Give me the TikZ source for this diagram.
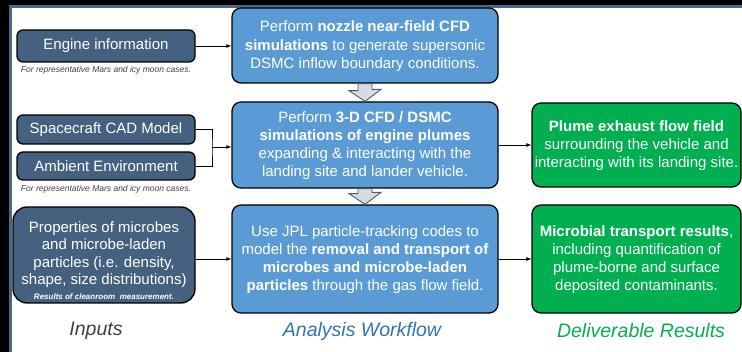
\documentclass[tikz,border=0pt]{standalone}
\usepackage{fontspec}
\setmainfont{Liberation Sans}
\usetikzlibrary{arrows.meta}
\definecolor{slate}{RGB}{68,97,128}
\definecolor{midblue}{RGB}{91,155,213}
\definecolor{grn}{RGB}{0,176,80}
\definecolor{frameblue}{RGB}{74,104,140}
\definecolor{awblue}{RGB}{46,117,182}
\definecolor{labgray}{RGB}{64,64,64}
\definecolor{arrfill}{RGB}{214,220,229}
\definecolor{arrline}{RGB}{89,89,89}
\begin{document}
\begin{tikzpicture}[x=1pt,y=-1pt,
  box/.style={draw=black, line width=1.3pt, rounded corners=9pt, text=white, align=center, inner sep=0pt,
    font=\fontsize{15}{18.2}\selectfont},
  inbox/.style={box, fill=slate, rounded corners=6pt},
  wfbox/.style={box, fill=midblue, text depth=1.5pt},
  resbox/.style={box, fill=grn, text depth=1.5pt},
  caption/.style={text=labgray, font=\fontsize{8.5}{10}\selectfont\itshape, inner sep=0pt},
  colhead/.style={font=\fontsize{19.5}{22}\selectfont\itshape, inner sep=0pt},
  conn/.style={line width=0.8pt, -{Latex[length=5pt,width=4pt]}},
  barrow/.style={fill=arrfill, draw=arrline, line width=0.9pt, line join=miter}
]
\useasboundingbox (0,0) rectangle (742,352);
% frame
\fill[black] (0,0) rectangle (742,352);
\fill[white] (10,6) rectangle (742,352);
\draw[frameblue, line width=2.2pt] (10.5,352) -- (10.5,6.5) -- (742,6.5);

% inputs
\node[inbox, minimum width=178pt, minimum height=32pt] (eng) at (106,46) {Engine information};
\node[caption] (cap1) at (106,70) {For representative Mars and icy moon cases.};
\node[inbox, minimum width=178pt, minimum height=29pt] (sc) at (106,129.5) {Spacecraft CAD Model};
\node[inbox, minimum width=178pt, minimum height=28pt] (amb) at (106,166) {Ambient Environment};
\node[caption] (cap2) at (106,189) {For representative Mars and icy moon cases.};
\node[inbox, rounded corners=14pt, minimum width=182pt, minimum height=96pt] (prop) at (104,255) {};
\node[text=white, align=center, inner sep=0pt, font=\fontsize{15}{17.4}\selectfont] (proptxt) at (104,254.5)
  {Properties of microbes\\ and microbe-laden\\ particles (i.e. density,\\ shape, size distributions)};
\node[text=white, inner sep=0pt, font=\fontsize{8}{9}\selectfont\bfseries\itshape] (propcap) at (104,297)
  {Results of cleanroom\ \ measurement.};

% workflow
\node[wfbox, minimum width=266pt, minimum height=75pt] (box1) at (365,45.5)
  {Perform \textbf{nozzle near-field CFD}\\ \textbf{simulations} to generate supersonic\\ DSMC inflow boundary conditions.};
\node[wfbox, minimum width=266pt, minimum height=86pt] (box2) at (365,145)
  {Perform \textbf{3-D CFD / DSMC}\\ \textbf{simulations of engine plumes}\\ expanding \& interacting with the\\ landing site and lander vehicle.};
\node[wfbox, minimum width=266pt, minimum height=108pt] (box3) at (365,259)
  {Use JPL particle-tracking codes to\\ model the \textbf{removal and transport of}\\ \textbf{microbes and microbe-laden}\\ \textbf{particles} through the gas flow field.};

% results
\node[resbox, minimum width=209pt, minimum height=84pt] (g1) at (636.5,145)
  {\textbf{Plume exhaust flow field}\\ surrounding the vehicle and\\ interacting with its landing site.};
\node[resbox, minimum width=209pt, minimum height=108pt] (g2) at (636.5,259)
  {\textbf{Microbial transport results},\\ including quantification of\\ plume-borne and surface\\ deposited contaminants.};

% column headings
\node[colhead, text=labgray] (hin) at (96,331) {Inputs};
\node[colhead, text=awblue] (hwf) at (362,331) {Analysis Workflow};
\node[colhead, text=grn] (hres) at (641,331) {Deliverable Results};

% connectors
\draw[conn] (eng.east) -- (box1.west |- eng.east);
\coordinate (j) at (212,147);
\draw[line width=0.8pt] (sc.east) -| (j) |- (amb.east);
\draw[conn] (j) -- (box2.west |- j);
\draw[conn] (box3.west -| prop.east) -- (box3.west);
\draw[conn] (box2.east) -- (g1.west);
\draw[conn] (box3.east) -- (g2.west);

% block arrows
\draw[barrow] ([xshift=-7pt]box1.south) -- ++(0,7) -- ++(-9,0) -- (box2.north) -- ++(16,-12) -- ++(-9,0) -- ([xshift=7pt]box1.south) -- cycle;
\draw[barrow] ([xshift=-7pt]box2.south) -- ++(0,5) -- ++(-9,0) -- (box3.north) -- ++(16,-12) -- ++(-9,0) -- ([xshift=7pt]box2.south) -- cycle;
\end{tikzpicture}
\end{document}
